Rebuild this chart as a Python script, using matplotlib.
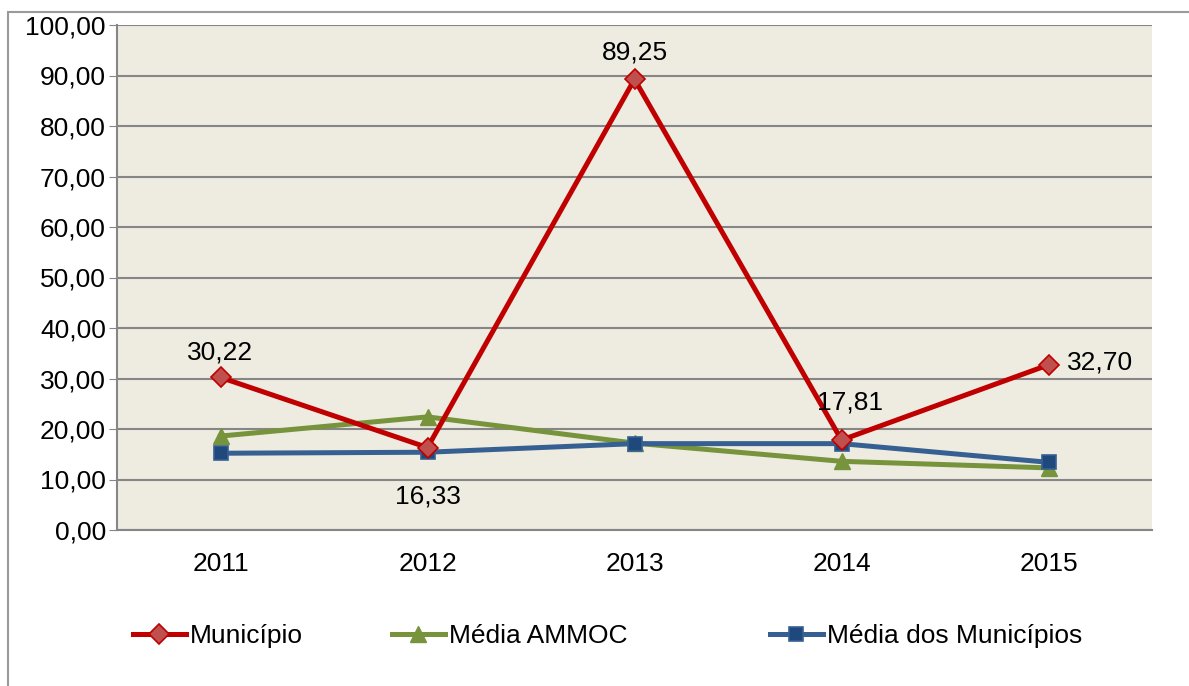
import matplotlib
matplotlib.use("Agg")
import matplotlib.pyplot as plt
from matplotlib.patches import Rectangle
from matplotlib.lines import Line2D

years = ["2011", "2012", "2013", "2014", "2015"]
municipio = [30.22, 16.33, 89.25, 17.81, 32.70]
media_ammoc = [18.6, 22.4, 17.2, 13.6, 12.3]
media_municipios = [15.2, 15.4, 17.1, 17.1, 13.4]
series_names = ["Município", "Média AMMOC", "Média dos Municípios"]
y_ticks = [0, 10, 20, 30, 40, 50, 60, 70, 80, 90, 100]

plt.rcParams['font.family'] = ['Liberation Sans', 'DejaVu Sans']
FS = 19

W, H = 1189, 686
fig = plt.figure(figsize=(W / 100, H / 100), dpi=100)

# outer frame
fig.patches.append(Rectangle((8 / W, -0.1), 1.2, 1.1 - 12 / H, transform=fig.transFigure,
                             fill=False, edgecolor="#9a9a9a", linewidth=1.5))

ax = fig.add_axes([117 / W, (H - 530) / H, 1035 / W, 505 / H])
ax.set_facecolor("#EEECE1")
x = list(range(len(years)))

styles = [
    dict(color="#C00000", marker="D", ms=10, mfc="#C0504D", mec="#C00000", mew=1.2),
    dict(color="#77933C", marker="^", ms=11, mfc="#77933C", mec="#77933C", mew=1.0),
    dict(color="#376092", marker="s", ms=10, mfc="#1F497D", mec="#376092", mew=1.2),
]
lw = 3.6
ax.plot(x, municipio, lw=lw, label=series_names[0], zorder=3, **styles[0])
ax.plot(x, media_ammoc, lw=lw, label=series_names[1], zorder=2, **styles[1])
ax.plot(x, media_municipios, lw=lw, label=series_names[2], zorder=2.5, **styles[2])

ax.set_xlim(-0.5, len(years) - 0.5)
ax.set_ylim(0, 100)
ax.set_yticks(y_ticks)
ax.set_yticklabels([f"{v:.2f}".replace(".", ",") for v in y_ticks])
ax.set_xticks(x)
ax.set_xticklabels(years)
ax.tick_params(axis="y", length=6, color="#868686", labelsize=FS, pad=2)
ax.tick_params(axis="x", length=0, labelsize=FS, pad=16)
ax.yaxis.grid(True, color="#868686", lw=1.5)
ax.set_axisbelow(True)
for s in ["top", "right"]:
    ax.spines[s].set_visible(False)
for s in ["left", "bottom"]:
    ax.spines[s].set_color("#868686")
    ax.spines[s].set_linewidth(1.5)

offsets = [(0, 18), (0, -35), (0, 19), (6, 27), (37, 2)]
for i, v in enumerate(municipio):
    ax.annotate(f"{v:.2f}".replace(".", ","), (x[i], v), xytext=offsets[i],
                textcoords="offset points", ha="center", va="center", fontsize=FS)

# legend entries placed individually
leg_x = [133, 392, 770]
for name, st, lx in zip(series_names, styles, leg_x):
    h = Line2D([], [], lw=lw, **st)
    lg = fig.legend([h], [name], loc="center left",
                    bbox_to_anchor=(lx / W, (H - 636) / H), frameon=False,
                    fontsize=FS, handlelength=2.0, handletextpad=0.15,
                    borderpad=0, borderaxespad=0)

fig.savefig("out.png", dpi=100)
